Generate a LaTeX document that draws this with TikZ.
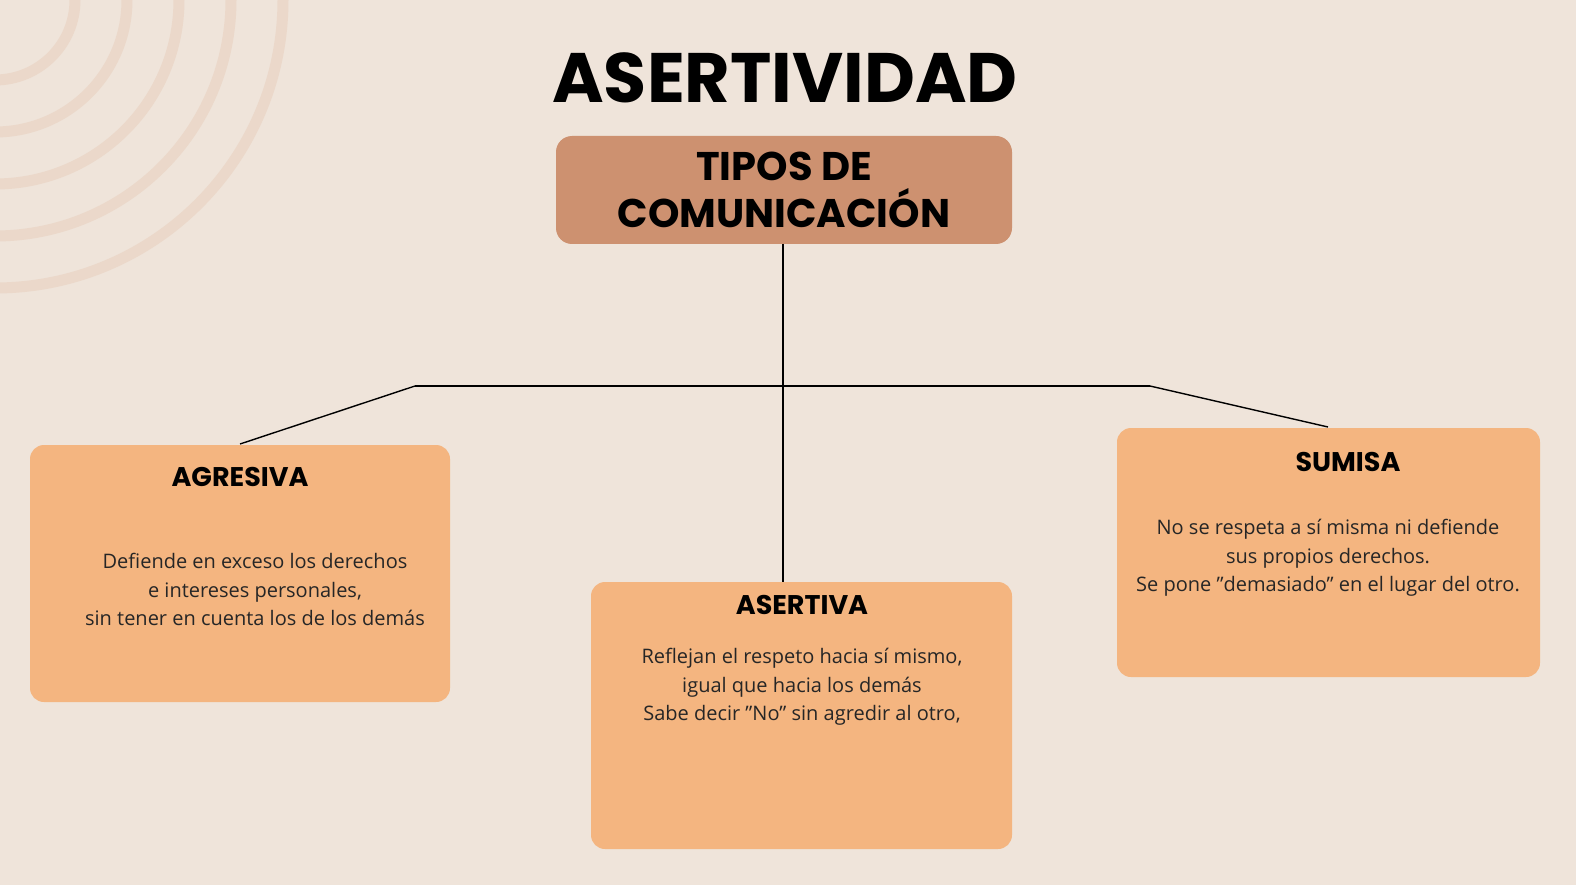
\documentclass[tikz,border=0pt]{standalone}
\usepackage{fontspec}
\setmainfont{Open Sans}
\newfontfamily\headfont{Poppins}
\definecolor{bg}{HTML}{EFE4DA}
\definecolor{arcc}{HTML}{EBD8CA}
\definecolor{topc}{HTML}{CD9170}
\definecolor{boxc}{HTML}{F4B580}
\tikzset{
 card/.style={fill=boxc, rounded corners=14pt, draw=none},
 hd/.style={font=\headfont\bfseries\fontsize{27}{30}\selectfont, anchor=base},
 body/.style={font=\fontsize{20}{28.5}\selectfont, align=center, anchor=north, text=black!85},
 ln/.style={line width=1.4pt, black}
}
\begin{document}
\begin{tikzpicture}[x=1pt,y=-1pt]
\fill[bg] (0,0) rectangle (1576,885);
\useasboundingbox (0,0) rectangle (1576,885);
\begin{scope}
\clip (0,0) rectangle (400,400);
\foreach \r in {80,132,184,236,288}
  \draw[arcc, line width=11pt] (-5,0) circle (\r);
\end{scope}
\node[font=\headfont\bfseries\fontsize{70}{72}\selectfont, anchor=base] (title) at (785,103) {ASERTIVIDAD};
\fill[topc, rounded corners=16pt] (556,136) rectangle (1012,244);
\coordinate (topb) at (783,244);
\node[font=\headfont\bfseries\fontsize{40}{47}\selectfont, align=center] (top) at (784,190) {TIPOS DE\\COMUNICACIÓN};
\fill[card] (30,445) rectangle (450,702);
\fill[card] (591,582) rectangle (1012,849);
\fill[card] (1117,428) rectangle (1540,677);
\node[hd] (h1) at (240,486) {AGRESIVA};
\node[hd] (h2) at (802,614) {ASERTIVA};
\node[hd] (h3) at (1348,471) {SUMISA};
\node[body] (b1) at (255,550) {Defiende en exceso los derechos\\e intereses personales,\\sin tener en cuenta los de los demás};
\node[body] (b2) at (802,645) {Reflejan el respeto hacia sí mismo,\\igual que hacia los demás\\Sabe decir "No" sin agredir al otro,};
\node[body] (b3) at (1328,516) {No se respeta a sí misma ni defiende\\sus propios derechos.\\Se pone "demasiado" en el lugar del otro.};
\coordinate (hl) at (415,386);
\coordinate (hr) at (1150,386);
\coordinate (e1) at (240,444);
\coordinate (e2) at (783,582);
\coordinate (e3) at (1328,427);
\draw[ln] (topb) -- (e2);
\draw[ln] (hl) -- (hr);
\draw[ln] (hl) -- (e1);
\draw[ln] (hr) -- (e3);
\end{tikzpicture}
\end{document}
